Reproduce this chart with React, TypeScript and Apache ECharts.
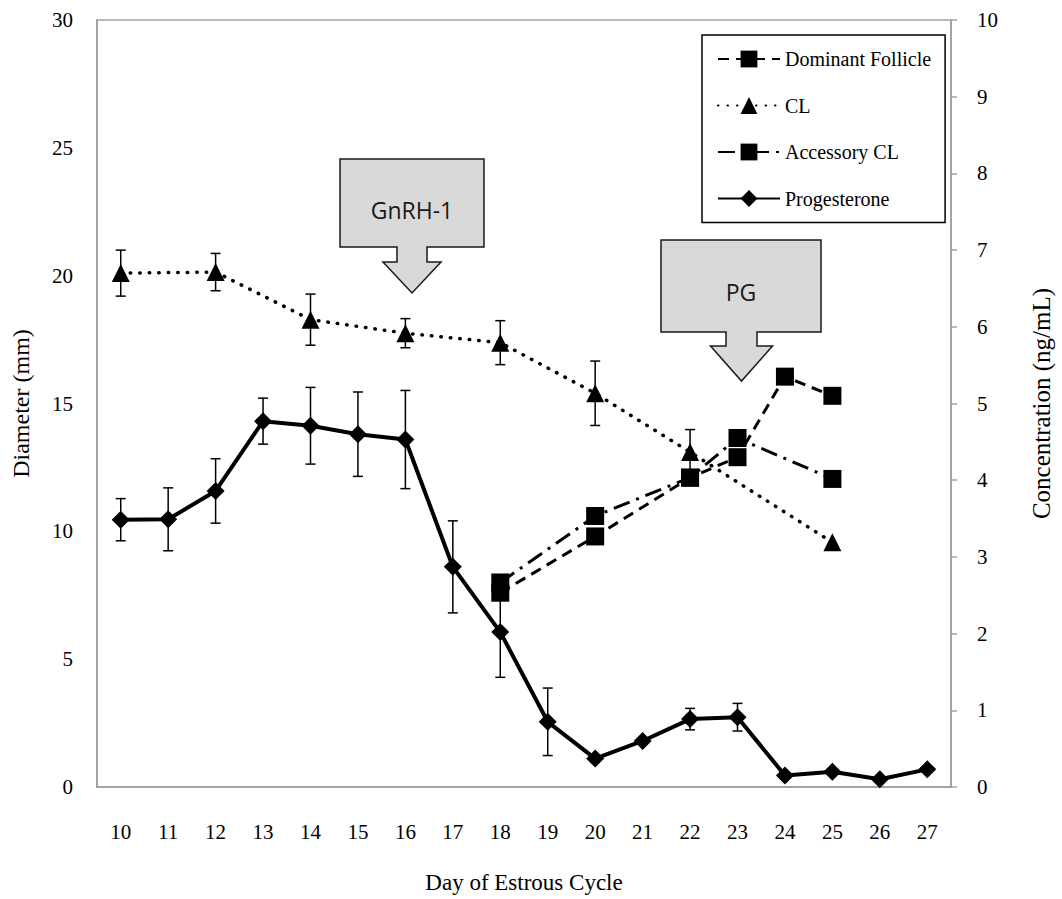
import React, { useEffect, useRef } from 'react';
import * as echarts from 'echarts';

// Day of the estrous cycle
const days = ['10', '11', '12', '13', '14', '15', '16', '17', '18', '19', '20', '21', '22', '23', '24', '25', '26', '27'];

// Diameters (mm), left axis
const clDiameter = [20.1, null, 20.14, null, 18.28, null, 17.75, null, 17.38, null, 15.4, null, 13.1, null, null, 9.57, null, null];
const clSE = [0.9, null, 0.73, null, 1.0, null, 0.57, null, 0.86, null, 1.26, null, 0.88, null, null, null, null, null];
const dominantFollicle = [null, null, null, null, null, null, null, null, 7.6, null, 9.8, null, 12.1, 12.9, 16.05, 15.3, null, null];
const accessoryCL = [null, null, null, null, null, null, null, null, 8.0, null, 10.6, null, 12.1, 13.65, null, 12.05, null, null];
const accessoryCLSE = [null, null, null, null, null, null, null, null, null, null, null, null, null, 0.3, null, null, null, null];

// Progesterone (ng/mL), right axis
const progesterone = [3.485, 3.49, 3.86, 4.77, 4.71, 4.6, 4.53, 2.87, 2.02, 0.85, 0.37, 0.6, 0.885, 0.91, 0.15, 0.2, 0.1, 0.23];
const progesteroneSE = [0.275, 0.41, 0.42, 0.3, 0.5, 0.55, 0.64, 0.6, 0.59, 0.44, null, null, 0.14, 0.18, null, null, null, null];

const SERIF = '"Liberation Serif", "Times New Roman", serif';
const SANS = '"Open Sans", "Noto Sans", sans-serif';
const AXIS_GREY = '#a3a3a3';

function errorData(values: (number | null)[], errs: (number | null)[]) {
  const out: number[][] = [];
  values.forEach((v, i) => {
    const e = errs[i];
    if (v != null && e != null) out.push([i, v - e, v + e]);
  });
  return out;
}

function renderErrorBar(_params: any, api: any) {
  const i = api.value(0);
  const lo = api.coord([i, api.value(1)]);
  const hi = api.coord([i, api.value(2)]);
  const cap = 5;
  const style = { stroke: '#000', lineWidth: 1.5 };
  return {
    type: 'group',
    children: [
      { type: 'line', shape: { x1: lo[0], y1: lo[1], x2: hi[0], y2: hi[1] }, style },
      { type: 'line', shape: { x1: lo[0] - cap, y1: lo[1], x2: lo[0] + cap, y2: lo[1] }, style },
      { type: 'line', shape: { x1: hi[0] - cap, y1: hi[1], x2: hi[0] + cap, y2: hi[1] }, style },
    ],
  };
}

// Block arrow (box with downward arrow) pointing at a treatment day
function blockArrow(box: [number, number, number, number], stem: [number, number], headHalf: number, stemLen: number, tipY: number, label: string, textY: number) {
  const [l, t, r, b] = box;
  const [s1, s2] = stem;
  const cx = (s1 + s2) / 2;
  const hy = b + stemLen;
  return {
    type: 'group',
    children: [
      {
        type: 'polygon',
        shape: {
          points: [
            [l, t], [r, t], [r, b], [s2, b], [s2, hy], [cx + headHalf, hy], [cx, tipY],
            [cx - headHalf, hy], [s1, hy], [s1, b], [l, b],
          ],
        },
        style: { fill: '#d9d9d9', stroke: '#1a1a1a', lineWidth: 1.5 },
      },
      {
        type: 'text',
        x: (l + r) / 2,
        y: textY,
        style: {
          text: label,
          fill: '#1a1a1a',
          font: `23px ${SANS}`,
          align: 'center',
          verticalAlign: 'middle',
        },
      },
    ],
  };
}

export default function App() {
  const ref = useRef<HTMLDivElement>(null);

  useEffect(() => {
    if (!ref.current) return;
    const chart = echarts.init(ref.current, null, { renderer: 'svg' });

    const black = '#000';
    const lineSeries = (name: string, data: (number | null)[], yAxisIndex: number, symbol: string, symbolSize: number, lineStyle: any) => ({
      name,
      type: 'line',
      data,
      yAxisIndex,
      symbol,
      symbolSize,
      connectNulls: true,
      z: 3,
      itemStyle: { color: black, borderWidth: 0 },
      lineStyle: { color: black, ...lineStyle },
      emphasis: { disabled: true },
    });

    chart.setOption({
      animation: false,
      backgroundColor: '#fff',
      grid: { left: 97, right: 98, top: 20, bottom: 111, show: true, borderColor: AXIS_GREY, borderWidth: 1.5 },
      legend: {
        data: ['Dominant Follicle', 'CL', 'Accessory CL', 'Progesterone'],
        orient: 'vertical',
        left: 702,
        top: 35,
        padding: [14, 14, 14, 15],
        itemWidth: 62,
        itemHeight: 21,
        itemGap: 26.5,
        borderColor: '#000',
        borderWidth: 1.5,
        backgroundColor: '#fff',
        textStyle: { fontFamily: SERIF, fontSize: 20, color: '#000' },
        selectedMode: false,
      },
      xAxis: {
        type: 'category',
        data: days,
        boundaryGap: true,
        axisLine: { lineStyle: { color: AXIS_GREY, width: 2 } },
        axisTick: { show: false },
        axisLabel: { fontFamily: SERIF, fontSize: 21, color: '#000', margin: 34, interval: 0 },
        name: 'Day of Estrous Cycle',
        nameLocation: 'middle',
        nameGap: 84,
        nameTextStyle: { fontFamily: SERIF, fontSize: 23, color: '#000' },
      },
      yAxis: [
        {
          type: 'value',
          min: 0,
          max: 30,
          interval: 5,
          position: 'left',
          splitLine: { show: false },
          axisLine: { show: true, lineStyle: { color: AXIS_GREY, width: 2 } },
          axisTick: { show: false },
          axisLabel: { fontFamily: SERIF, fontSize: 21, color: '#000', margin: 24 },
          name: 'Diameter (mm)',
          nameLocation: 'middle',
          nameRotate: 90,
          nameGap: 64,
          nameTextStyle: { fontFamily: SERIF, fontSize: 24, color: '#000' },
        },
        {
          type: 'value',
          min: 0,
          max: 10,
          interval: 1,
          position: 'right',
          splitLine: { show: false },
          axisLine: { show: true, lineStyle: { color: AXIS_GREY, width: 2 } },
          axisTick: { show: true, length: 6, lineStyle: { color: AXIS_GREY, width: 1.5 } },
          axisLabel: { fontFamily: SERIF, fontSize: 21, color: '#000', margin: 26 },
          name: 'Concentration (ng/mL)',
          nameLocation: 'middle',
          nameRotate: 90,
          nameGap: 78,
          nameTextStyle: { fontFamily: SERIF, fontSize: 25, color: '#000' },
        },
      ],
      series: [
        lineSeries('Dominant Follicle', dominantFollicle, 0, 'rect', 18, { width: 3, type: [11, 7] }),
        lineSeries('CL', clDiameter, 0, 'triangle', 18, { width: 3.5, type: [0.5, 9], cap: 'round' }),
        lineSeries('Accessory CL', accessoryCL, 0, 'rect', 18, { width: 3, type: [17, 7, 3, 7] }),
        lineSeries('Progesterone', progesterone, 1, 'diamond', 18, { width: 4 }),
        {
          name: 'CL SE',
          type: 'custom',
          yAxisIndex: 0,
          z: 1,
          renderItem: renderErrorBar,
          encode: { x: 0, y: [1, 2] },
          data: errorData(clDiameter, clSE),
        },
        {
          name: 'Accessory CL SE',
          type: 'custom',
          yAxisIndex: 0,
          z: 1,
          renderItem: renderErrorBar,
          encode: { x: 0, y: [1, 2] },
          data: errorData(accessoryCL, accessoryCLSE),
        },
        {
          name: 'Progesterone SE',
          type: 'custom',
          yAxisIndex: 1,
          z: 1,
          renderItem: renderErrorBar,
          encode: { x: 0, y: [1, 2] },
          data: errorData(progesterone, progesteroneSE),
        },
      ],
      graphic: [
        blockArrow([340, 159, 484, 247], [397, 427], 29, 15, 293, 'GnRH-1', 210),
        blockArrow([661, 240, 821, 332], [726, 757], 31, 14, 381, 'PG', 292),
      ],
    });

    return () => chart.dispose();
  }, []);

  return (
    <div
      ref={ref}
      style={{ position: 'fixed', left: 0, top: 0, width: 1062, height: 899, background: '#fff' }}
    />
  );
}
